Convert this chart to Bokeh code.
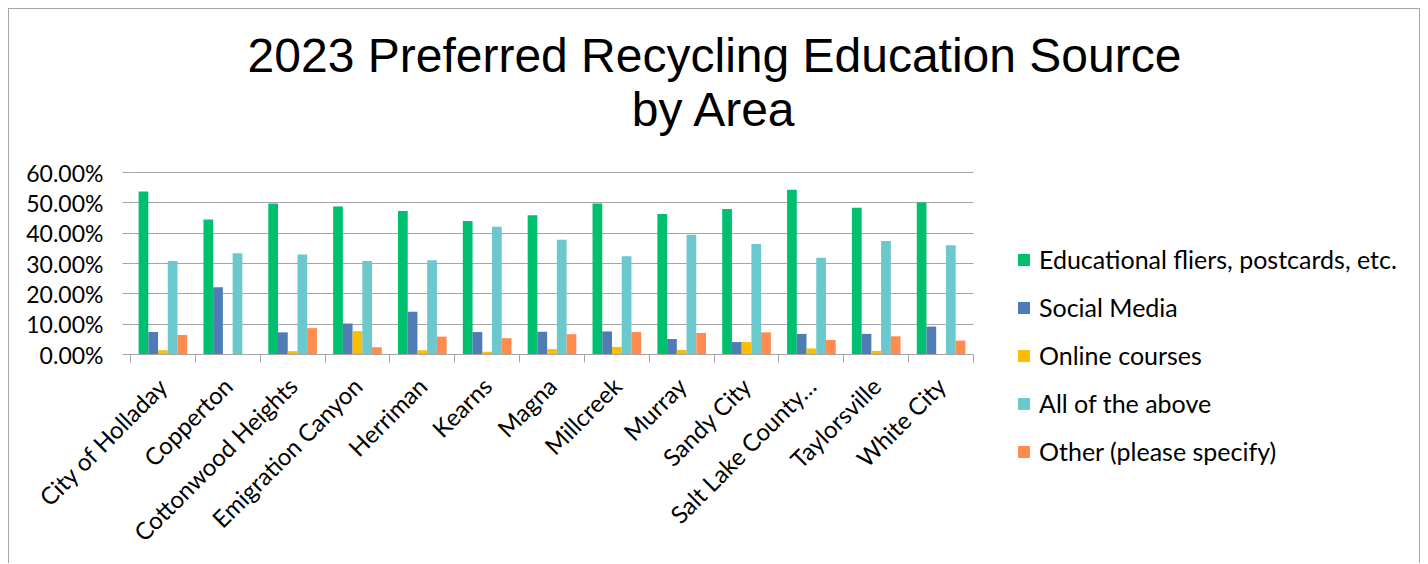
import math
from bokeh.plotting import figure
from bokeh.models import (ColumnDataSource, Range1d, LinearAxis, FixedTicker,
                          NumeralTickFormatter, Label)
from bokeh.transform import dodge
from bokeh.embed import file_html
from bokeh.resources import INLINE

areas = ["City of Holladay", "Copperton", "Cottonwood Heights", "Emigration Canyon", "Herriman",
         "Kearns", "Magna", "Millcreek", "Murray", "Sandy City", "Salt Lake County…",
         "Taylorsville", "White City"]
educational = [0.537, 0.445, 0.498, 0.488, 0.473, 0.440, 0.459, 0.498, 0.463, 0.480, 0.543, 0.484, 0.501]
social_media = [0.074, 0.222, 0.073, 0.102, 0.141, 0.074, 0.075, 0.076, 0.051, 0.041, 0.068, 0.068, 0.092]
online_courses = [0.014, 0.0, 0.011, 0.077, 0.014, 0.009, 0.018, 0.025, 0.015, 0.041, 0.020, 0.012, 0.0]
all_above = [0.308, 0.334, 0.330, 0.308, 0.311, 0.421, 0.378, 0.324, 0.395, 0.364, 0.319, 0.374, 0.360]
other = [0.064, 0.0, 0.087, 0.024, 0.059, 0.054, 0.067, 0.074, 0.071, 0.073, 0.048, 0.060, 0.046]

series_names = ["Educational fliers, postcards, etc.", "Social Media", "Online courses",
                "All of the above", "Other (please specify)"]
series_keys = ["educational", "social_media", "online_courses", "all_above", "other"]
colors = ["#00BF6F", "#507CB6", "#F9BE00", "#6BC8CD", "#FF8B4F"]
y_ticks = [0.0, 0.1, 0.2, 0.3, 0.4, 0.5, 0.6]
title_lines = ["2023 Preferred Recycling Education Source", "by Area"]

n = len(areas)
centers = [i + 0.5 for i in range(n)]
edges = list(range(n + 1))
src = ColumnDataSource(dict(area=areas, xpos=centers, educational=educational,
                            social_media=social_media, online_courses=online_courses,
                            all_above=all_above, other=other))

GRID = "#a6a6a6"
FONT = "Lato"

# layout (pixels): the frame covers the whole canvas; axes are drawn at x=0 / y=0
W, H = 1412, 555
BAR_AREA_W = 843          # px taken by the 13 categories
VALUE_AREA_H = 182        # px taken by 0 .. 60 %
ZERO_FROM_LEFT = 121      # px from canvas left to the first category edge
ZERO_FROM_BOTTOM = 210    # px from canvas bottom to the 0 % line

x_px = BAR_AREA_W / n
y_px = VALUE_AREA_H / y_ticks[-1]
x_start = -ZERO_FROM_LEFT / x_px
x_end = (W - ZERO_FROM_LEFT) / x_px
y_start = -ZERO_FROM_BOTTOM / y_px
y_end = (H - ZERO_FROM_BOTTOM) / y_px

p = figure(x_range=Range1d(x_start, x_end), y_range=Range1d(y_start, y_end), width=W, height=H,
           output_backend="svg", toolbar_location=None, x_axis_location=None,
           min_border_left=0, min_border_right=0, min_border_top=0, min_border_bottom=0)
p.styles = {"margin-left": "8px", "margin-top": "8px",
            "border-left": "1px solid #a6a6a6", "border-top": "1px solid #a6a6a6",
            "border-right": "1px solid #a6a6a6"}
p.outline_line_color = None
p.background_fill_color = "white"

offsets = [-0.3, -0.15, 0.0, 0.15, 0.3]
for key, name, col, off in zip(series_keys, series_names, colors, offsets):
    p.vbar(x=dodge("xpos", off), top=key, bottom=0, width=0.15, source=src,
           fill_color=col, line_color=None, legend_label=name)

# y axis drawn at the first category edge
yax = p.yaxis[0]
yax.fixed_location = 0
yax.ticker = FixedTicker(ticks=y_ticks)
yax.formatter = NumeralTickFormatter(format="0.00%")
yax.axis_line_color = None
yax.major_tick_in = 0
yax.major_tick_out = 8
yax.major_tick_line_color = GRID
yax.minor_tick_line_color = None
yax.major_label_text_font = FONT
yax.major_label_text_font_size = "23px"
yax.major_label_text_color = "black"
yax.major_label_standoff = 19

p.ygrid.ticker = FixedTicker(ticks=y_ticks)
p.ygrid.grid_line_color = GRID
p.ygrid.grid_line_width = 1
p.ygrid.cross_bounds = (0, n)
p.xgrid.visible = False

# x axis drawn at the 0 % line: labels at category centres, tick marks at category edges
cat_axis = LinearAxis(ticker=FixedTicker(ticks=centers, minor_ticks=edges), fixed_location=0,
                      bounds=(0, n),
                      major_label_overrides={c: a for c, a in zip(centers, areas)},
                      major_label_orientation=math.pi / 4,
                      axis_line_color=GRID, major_tick_line_color=None,
                      major_tick_in=0, major_tick_out=0,
                      minor_tick_line_color=GRID, minor_tick_in=0, minor_tick_out=8,
                      major_label_standoff=19, major_label_text_font=FONT,
                      major_label_text_font_size="24px", major_label_text_color="black")
p.add_layout(cat_axis, "below")

# legend (right of the bars)
leg = p.legend[0]
leg.location = (1007, 98)
leg.border_line_color = None
leg.background_fill_alpha = 0
leg.padding = 0
leg.margin = 0
leg.glyph_width = 15
leg.glyph_height = 15
leg.label_standoff = 8
leg.spacing = 18
leg.label_text_font = FONT
leg.label_text_font_size = "25px"
leg.label_text_color = "black"

# title
for txt, yy in zip(title_lines, [509.3, 454.7]):
    p.add_layout(Label(x=705, y=yy, x_units="screen", y_units="screen", text=txt,
                       text_align="center", text_baseline="alphabetic",
                       text_font="Liberation Sans", text_font_size="48px", text_color="black"))

open("out.html", "w").write(file_html(p, INLINE))
